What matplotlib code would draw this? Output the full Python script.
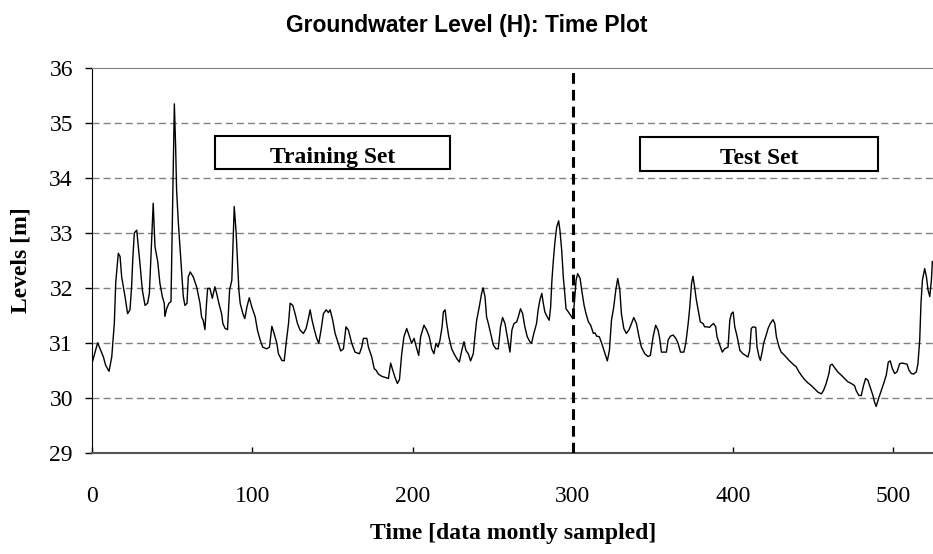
import matplotlib.pyplot as plt
from matplotlib.patches import Rectangle

# Monthly groundwater level
time_steps = [
    0, 3.3, 6.9, 8.3, 10.4, 12.1, 13.7, 14.6, 16.2, 17.3, 18.3, 20.4, 22.0, 23.5, 24.5,
    25.2, 26.2, 27.7, 28.7, 29.7, 31.2, 32.9, 34.5, 35.6, 36.6, 38.0, 39.1, 40.8, 42.2,
    43.7, 44.9, 45.3, 46.4, 47.8, 49.1, 49.5, 50.5, 51.2, 52.0, 52.6, 53.7, 55.3, 56.8,
    57.8, 59.1, 59.9, 61.1, 63.0, 65.1, 67.2, 68.2, 69.2, 70.3, 71.3, 72.0, 73.4, 74.9,
    76.5, 77.6, 79.0, 80.7, 81.5, 82.9, 84.4, 85.7, 87.1, 88.6, 89.8, 90.7, 91.5, 92.3,
    94.0, 95.2, 96.5, 98.0, 99.6, 101.7, 103.1, 104.8, 106.4, 108.9, 110.6, 112.1, 113.5,
    115.2, 116.2, 118.3, 119.8, 121.0, 122.5, 123.5, 125.2, 126.6, 128.1, 129.7, 131.8,
    133.5, 134.9, 136.0, 137.2, 138.7, 140.1, 141.4, 142.8, 144.3, 146.0, 147.4, 148.5,
    150.1, 151.6, 153.6, 155.1, 156.8, 158.4, 159.9, 162.0, 164.0, 166.8, 168.2, 169.3,
    171.4, 172.4, 174.5, 176.0, 177.2, 178.6, 180.7, 182.8, 184.9, 186.3, 187.6, 189.0,
    190.5, 191.8, 193.2, 194.6, 196.3, 198.0, 199.4, 200.9, 202.6, 203.8, 205.0, 207.1,
    208.8, 210.4, 211.9, 213.3, 214.6, 215.9, 217.1, 218.4, 219.2, 220.3, 221.3, 222.6,
    224.4, 225.9, 227.6, 229.2, 230.7, 232.1, 233.3, 234.8, 236.2, 237.9, 238.9, 240.0,
    241.6, 243.1, 244.0, 245.2, 246.2, 247.3, 248.7, 250.4, 252.0, 253.5, 254.9, 256.2,
    257.7, 259.1, 260.8, 262.0, 263.3, 265.0, 266.0, 267.4, 268.7, 270.1, 271.6, 273.2,
    274.3, 275.7, 277.4, 278.4, 279.5, 280.7, 281.6, 282.6, 284.1, 285.3, 286.2, 287.0,
    287.9, 288.9, 290.0, 291.2, 292.0, 293.1, 294.1, 295.2, 295.8, 297.3, 298.7, 300.0,
    301.0, 302.1, 303.1, 304.6, 305.6, 307.1, 308.3, 309.8, 311.2, 312.9, 313.9, 315.0,
    316.6, 318.1, 319.5, 320.8, 321.6, 322.9, 324.2, 325.6, 326.9, 328.1, 329.4, 330.4,
    331.9, 333.5, 335.2, 336.7, 338.1, 339.8, 341.4, 342.9, 345.0, 347.0, 348.5, 350.2,
    351.8, 353.3, 354.3, 355.4, 358.5, 359.6, 361.0, 362.7, 364.4, 365.8, 367.3, 369.4,
    370.6, 372.1, 373.1, 374.2, 375.1, 376.1, 377.2, 378.3, 379.7, 381.4, 382.4, 383.9,
    385.5, 386.6, 388.0, 389.3, 390.1, 391.8, 393.4, 394.9, 397.0, 398.1, 399.1, 400.2,
    401.2, 402.7, 404.4, 406.3, 408.0, 409.4, 410.5, 411.5, 412.6, 414.3, 415.1, 416.4,
    417.2, 418.5, 419.2, 420.5, 422.0, 423.4, 425.1, 426.2, 427.2, 428.9, 430.2, 432.3,
    435.1, 437.6, 439.6, 441.3, 442.7, 444.8, 446.9, 449.0, 451.1, 453.2, 455.3, 456.6,
    458.3, 460.0, 460.8, 462.0, 463.5, 465.5, 467.7, 469.7, 471.8, 473.9, 476.0, 477.0,
    478.7, 480.2, 481.6, 482.9, 484.3, 485.8, 487.5, 488.5, 489.5, 491.3, 492.7, 494.2,
    495.8, 497.1, 498.3, 499.6, 501.1, 502.5, 504.2, 505.9, 507.3, 508.8, 510.0, 511.5,
    512.9, 514.6, 515.6, 516.7, 517.5, 518.4, 519.8, 520.9, 521.9, 523.0, 524.0, 524.6,
]
levels = [
    30.65, 31.0, 30.74, 30.59, 30.48, 30.74, 31.35, 32.1, 32.63, 32.57, 32.2, 31.84, 31.53, 31.6, 32.02,
    32.5, 33.0, 33.05, 32.75, 32.45, 31.96, 31.68, 31.72, 31.9, 32.57, 33.54, 32.75, 32.48, 32.08,
    31.84, 31.72, 31.48, 31.62, 31.72, 31.75, 32.45, 34.09, 35.35, 34.57, 33.78, 33.18, 32.5, 31.84,
    31.68, 31.72, 32.2, 32.29, 32.2, 32.02, 31.72, 31.47, 31.41, 31.24, 31.72, 31.99, 31.99, 31.81,
    32.02, 31.9, 31.72, 31.53, 31.35, 31.26, 31.24, 31.96, 32.14, 33.48, 33.0, 32.45, 31.96, 31.72,
    31.53, 31.44, 31.65, 31.82, 31.65, 31.47, 31.23, 31.05, 30.92, 30.89, 30.92, 31.3, 31.17,
    30.99, 30.8, 30.68, 30.67, 30.99, 31.35, 31.72, 31.68, 31.53, 31.35, 31.23, 31.17,
    31.26, 31.44, 31.6, 31.41, 31.23, 31.08, 30.99, 31.23, 31.53, 31.6, 31.55, 31.6,
    31.41, 31.17, 30.99, 30.85, 30.89, 31.29, 31.23, 30.99, 30.83, 30.8, 30.92, 31.08,
    31.08, 30.92, 30.74, 30.53, 30.5, 30.43, 30.39, 30.37, 30.35, 30.63, 30.5, 30.37,
    30.26, 30.33, 30.8, 31.11, 31.26, 31.11, 30.99, 31.08, 30.89, 30.77, 31.11, 31.32,
    31.23, 31.11, 30.89, 30.8, 30.99, 30.92, 31.05, 31.29, 31.56, 31.6, 31.35, 31.11,
    30.89, 30.8, 30.71, 30.65, 30.86, 31.02, 30.86, 30.8, 30.67, 30.8, 31.11, 31.41,
    31.65, 31.9, 32.0, 31.84, 31.47, 31.35, 31.17, 30.96, 30.89, 30.89, 31.29, 31.46,
    31.35, 31.11, 30.83, 31.23, 31.35, 31.38, 31.47, 31.62, 31.53, 31.29, 31.11, 31.02,
    30.99, 31.17, 31.35, 31.6, 31.78, 31.9, 31.72, 31.56, 31.47, 31.41, 31.65, 32.14,
    32.5, 32.84, 33.11, 33.22, 33.05, 32.69, 32.2, 31.84, 31.62, 31.56, 31.5, 31.44,
    31.72, 32.14, 32.26, 32.17, 31.96, 31.68, 31.53, 31.38, 31.32, 31.17, 31.18, 31.12,
    31.11, 30.99, 30.86, 30.74, 30.67, 30.86, 31.41, 31.65, 31.96, 32.17, 31.96, 31.53,
    31.26, 31.17, 31.24, 31.35, 31.46, 31.35, 31.11, 30.92, 30.8, 30.75, 30.77, 31.11,
    31.32, 31.23, 31.08, 30.83, 30.83, 31.05, 31.12, 31.14, 31.08, 30.99, 30.83, 30.83,
    30.99, 31.35, 31.65, 32.08, 32.21, 32.02, 31.78, 31.6, 31.38, 31.35, 31.29, 31.29,
    31.28, 31.32, 31.35, 31.29, 31.11, 30.96, 30.83, 30.89, 30.92, 31.41, 31.53, 31.56,
    31.29, 31.11, 30.86, 30.8, 30.77, 30.74, 30.86, 31.26, 31.29, 31.28, 30.92, 30.74,
    30.68, 30.86, 30.99, 31.11, 31.26, 31.35, 31.42, 31.35, 31.11, 30.92, 30.83, 30.77,
    30.68, 30.61, 30.56, 30.47, 30.41, 30.33, 30.27, 30.22, 30.16, 30.1, 30.07, 30.13,
    30.26, 30.44, 30.59, 30.61, 30.55, 30.47, 30.41, 30.35, 30.29, 30.26, 30.22, 30.13,
    30.04, 30.04, 30.22, 30.35, 30.32, 30.19, 30.04, 29.92, 29.84, 30.01, 30.13, 30.26,
    30.41, 30.65, 30.67, 30.53, 30.44, 30.47, 30.62, 30.63, 30.62, 30.61, 30.5, 30.44,
    30.43, 30.47, 30.62, 31.05, 31.72, 32.14, 32.35, 32.2, 31.96, 31.84, 32.14, 32.48,
]

split_time = 300
y_ticks = [29, 30, 31, 32, 33, 34, 35, 36]
x_ticks = [0, 100, 200, 300, 400, 500]

serif = "Liberation Serif"

fig = plt.figure(figsize=(9.33, 5.54), dpi=100)
ax = fig.add_axes([0.099, 0.183, 0.901, 0.694])

# Horizontal dashed gridlines
for y in y_ticks[1:-1]:
    ax.axhline(y, color="#808080", lw=1.0, linestyle=(0, (5, 3)), zorder=1)

# Series and train/test split
ax.plot(time_steps, levels, color="black", lw=1.0, zorder=3)
ax.axvline(split_time, color="black", lw=2.2, linestyle=(0, (3.5, 2)), zorder=4)

ax.set_xlim(0, 525)
ax.set_ylim(29, 36)
ax.set_xticks(x_ticks)
ax.set_yticks(y_ticks)
ax.tick_params(axis="y", direction="out", length=5, width=1, pad=9, labelsize=17)
ax.tick_params(axis="x", direction="in", length=4, width=1, pad=24, labelsize=17)
for lbl in ax.get_xticklabels() + ax.get_yticklabels():
    lbl.set_fontfamily(serif)

ax.spines["right"].set_visible(False)
ax.spines["top"].set_color("#808080")
ax.spines["bottom"].set_color("#555555")
ax.spines["bottom"].set_linewidth(1.5)
ax.spines["left"].set_color("black")

# Labelled boxes for the two data sets
ax.add_patch(Rectangle((76.7, 34.16), 146.6, 0.61, facecolor="white",
                       edgecolor="black", lw=1.5, zorder=5))
ax.text(150.3, 34.28, "Training Set", ha="center", va="baseline", fontsize=17,
        fontweight="bold", fontfamily=serif, zorder=6)
ax.add_patch(Rectangle((341.9, 34.13), 148.7, 0.61, facecolor="white",
                       edgecolor="black", lw=1.5, zorder=5))
ax.text(416.4, 34.26, "Test Set", ha="center", va="baseline", fontsize=17,
        fontweight="bold", fontfamily=serif, zorder=6)

ax.set_xlabel("Time [data montly sampled]", fontsize=17, fontweight="bold",
              fontfamily=serif)
ax.xaxis.set_label_coords(0.5, -0.183)
ax.set_ylabel("Levels [m]", fontsize=17, fontweight="bold", fontfamily=serif)
ax.yaxis.set_label_coords(-0.072, 0.5)

fig.text(0.5, 0.942, "Groundwater Level (H): Time Plot", ha="center", va="baseline",
         fontsize=16.5, fontweight="bold", fontfamily="Liberation Sans")

fig.savefig("out.png", dpi=100)
